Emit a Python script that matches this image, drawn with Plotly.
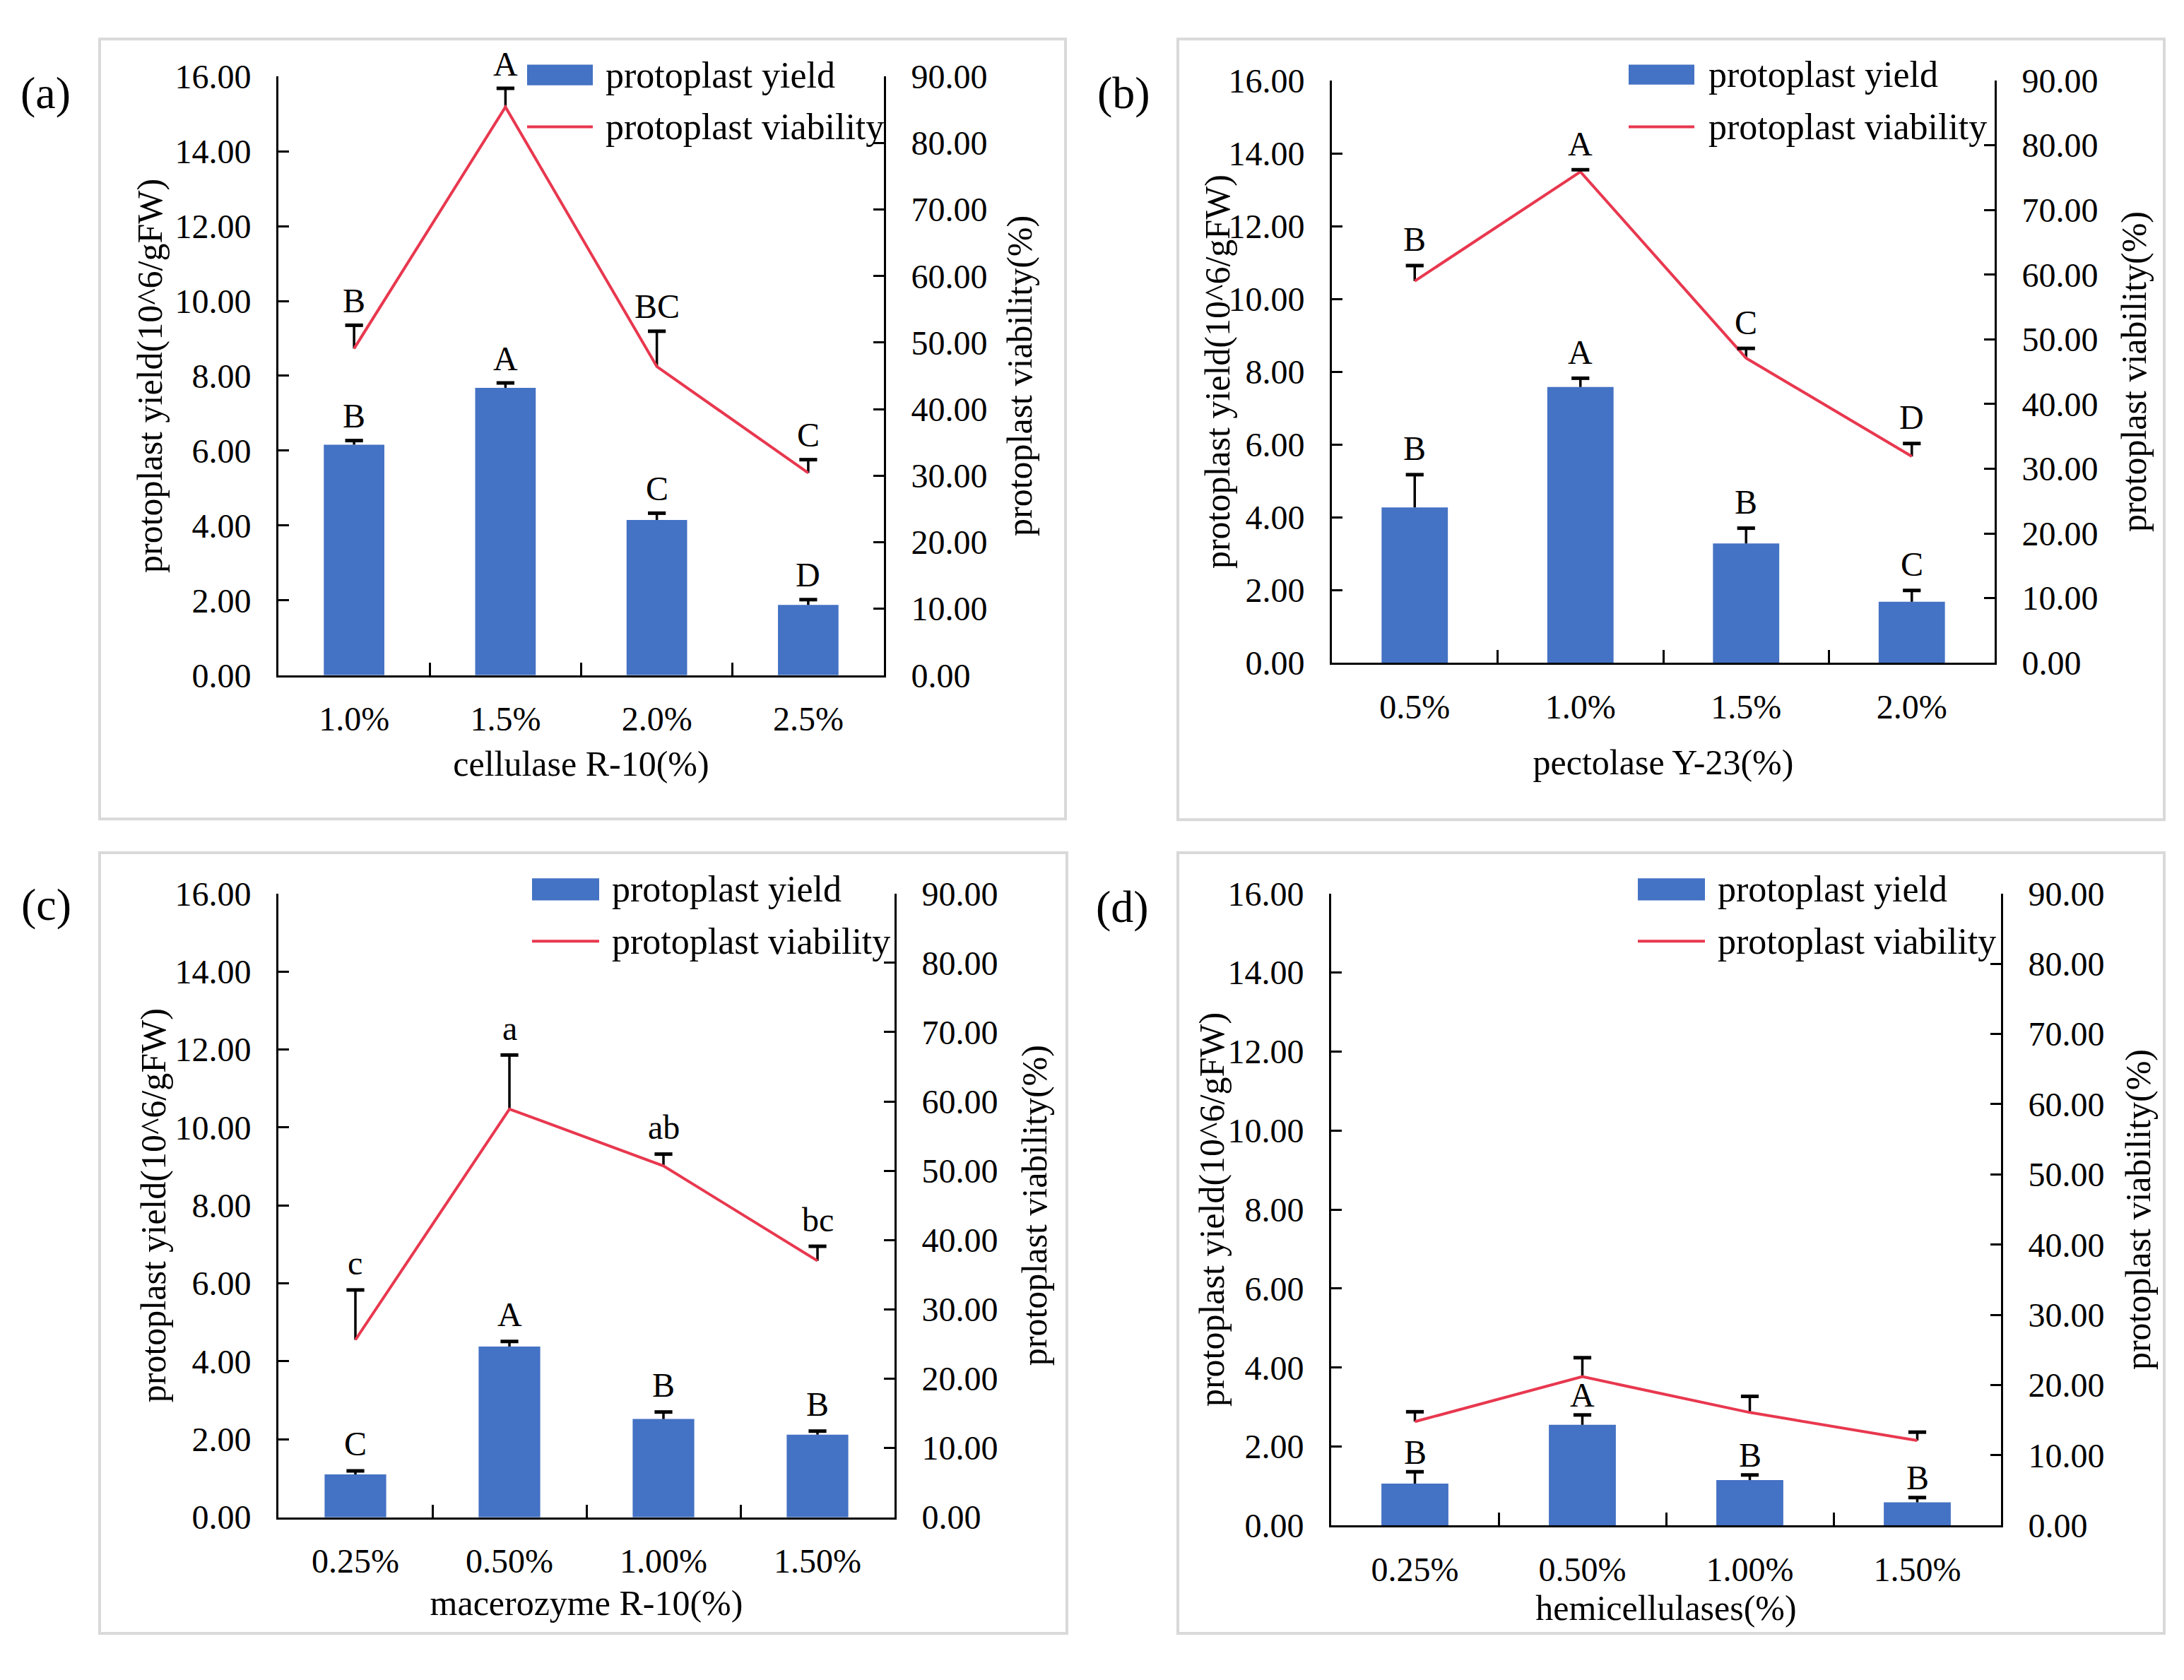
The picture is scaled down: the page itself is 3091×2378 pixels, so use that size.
import plotly.graph_objects as go

W, H = 3091, 2378
FONT = "Liberation Serif"
BAR_COLOR = "#4472C4"
LINE_COLOR = "#E8384F"

# ---------------- data ----------------
cats_a = ["1.0%", "1.5%", "2.0%", "2.5%"]
yield_a = [6.16, 7.68, 4.15, 1.88]
yield_err_a = [0.11, 0.13, 0.18, 0.14]
viab_a = [49.1, 85.4, 46.4, 30.4]
viab_err_a = [3.5, 2.8, 5.3, 2.0]
let_yield_a = ["B", "A", "C", "D"]
let_viab_a = ["B", "A", "BC", "C"]

cats_b = ["0.5%", "1.0%", "1.5%", "2.0%"]
yield_b = [4.27, 7.58, 3.28, 1.68]
yield_err_b = [0.90, 0.24, 0.42, 0.31]
viab_b = [59.0, 75.9, 47.1, 31.9]
viab_err_b = [2.4, 0.3, 1.5, 2.0]
let_yield_b = ["B", "A", "B", "C"]
let_viab_b = ["B", "A", "C", "D"]

cats_c = ["0.25%", "0.50%", "1.00%", "1.50%"]
yield_c = [1.10, 4.38, 2.52, 2.12]
yield_err_c = [0.09, 0.13, 0.18, 0.09]
viab_c = [25.6, 58.9, 50.7, 37.0]
viab_err_c = [7.2, 7.8, 1.7, 2.1]
let_yield_c = ["C", "A", "B", "B"]
let_viab_c = ["c", "a", "ab", "bc"]

cats_d = ["0.25%", "0.50%", "1.00%", "1.50%"]
yield_d = [1.06, 2.55, 1.15, 0.59]
yield_err_d = [0.30, 0.25, 0.13, 0.12]
viab_d = [14.8, 21.2, 16.1, 12.1]
viab_err_d = [1.4, 2.7, 2.3, 1.2]
let_yield_d = ["B", "A", "B", "B"]
let_viab_d = ["", "", "", ""]

xtitles = ["cellulase R-10(%)", "pectolase Y-23(%)", "macerozyme R-10(%)", "hemicellulases(%)"]
panel_labels = ["(a)", "(b)", "(c)", "(d)"]
left_title = "protoplast yield(10^6/gFW)"
right_title = "protoplast viability(%)"
legend_names = ["protoplast yield", "protoplast viability"]

# ---------------- layout geometry (pixels) ----------------
def px(x):
    return x / W

def py(y):
    return 1 - y / H

panels = [
    dict(cats=cats_a, yv=yield_a, ye=yield_err_a, vv=viab_a, ve=viab_err_a, ly=let_yield_a, lv=let_viab_a,
         plot=(394, 1251, 84, 951), box=(141, 1508, 30, 1159), leg=(746, 839, 67, 97, 157, 855),
         lab=(64, 108), xstand=20, ytx=(212, 1443), lshift=35),
    dict(cats=cats_b, yv=yield_b, ye=yield_err_b, vv=viab_b, ve=viab_err_b, ly=let_yield_b, lv=let_viab_b,
         plot=(1885, 2823, 90, 933), box=(1667, 3063, 30, 1160), leg=(2305, 2398, 67, 96, 157, 2416),
         lab=(1590, 108), xstand=36, ytx=(1723, 3020), lshift=37),
    dict(cats=cats_c, yv=yield_c, ye=yield_err_c, vv=viab_c, ve=viab_err_c, ly=let_yield_c, lv=let_viab_c,
         plot=(394, 1266, 1267, 2170), box=(141, 1510, 1208, 2338), leg=(753, 848, 1245, 1277, 1336, 864),
         lab=(65, 1283), xstand=16, ytx=(217, 1464), lshift=38),
    dict(cats=cats_d, yv=yield_d, ye=yield_err_d, vv=viab_d, ve=viab_err_d, ly=let_yield_d, lv=let_viab_d,
         plot=(1884, 2832, 1267, 2182), box=(1667, 3063, 1208, 2338), leg=(2318, 2413, 1245, 1277, 1336, 2429),
         lab=(1588, 1286), xstand=6, ytx=(1715, 3026), lshift=28),
]

fig = go.Figure()
layout = dict(
    width=W, height=H, margin=dict(l=0, r=0, t=0, b=0), autosize=False,
    paper_bgcolor="white", plot_bgcolor="rgba(0,0,0,0)",
    font=dict(family=FONT, size=48, color="black"),
    showlegend=False, barmode="overlay",
)
shapes = []
annotations = []

tickfont = dict(family=FONT, size=48, color="black")
titlefont = dict(family=FONT, size=50, color="black")

for i, p in enumerate(panels):
    n = i + 1
    xa = "x" if n == 1 else f"x{n}"
    yl = "y" if n == 1 else f"y{2 * n - 1}"
    yr = f"y{2 * n}"
    xkey = "xaxis" if n == 1 else f"xaxis{n}"
    ylkey = "yaxis" if n == 1 else f"yaxis{2 * n - 1}"
    yrkey = f"yaxis{2 * n}"
    x0, x1, y0, y1 = p["plot"]

    # bars with one-sided error bars
    fig.add_trace(go.Bar(
        x=p["cats"], y=p["yv"], xaxis=xa, yaxis=yl, width=0.4,
        marker=dict(color=BAR_COLOR, line=dict(width=0)), name=legend_names[0],
        error_y=dict(type="data", symmetric=False, array=p["ye"], arrayminus=[0] * 4,
                     width=0, thickness=3.5, color="black"),
    ))
    top_y = [v + e for v, e in zip(p["yv"], p["ye"])]
    fig.add_trace(go.Scatter(
        x=p["cats"], y=top_y, xaxis=xa, yaxis=yl, mode="markers",
        marker=dict(symbol="line-ew", size=18, line=dict(width=5, color="black")),
        hoverinfo="skip",
    ))
    # viability line with one-sided error bars
    fig.add_trace(go.Scatter(
        x=p["cats"], y=p["vv"], xaxis=xa, yaxis=yr, mode="lines", name=legend_names[1],
        line=dict(color=LINE_COLOR, width=4),
        error_y=dict(type="data", symmetric=False, array=p["ve"], arrayminus=[0] * 4,
                     width=0, thickness=3.5, color="black"),
    ))
    top_v = [v + e for v, e in zip(p["vv"], p["ve"])]
    fig.add_trace(go.Scatter(
        x=p["cats"], y=top_v, xaxis=xa, yaxis=yr, mode="markers",
        marker=dict(symbol="line-ew", size=18, line=dict(width=5, color="black")),
        hoverinfo="skip",
    ))

    layout[xkey] = dict(
        domain=[px(x0), px(x1)], anchor=yl, type="category", range=[-0.5, 3.5],
        showline=True, linecolor="black", linewidth=3, mirror=False,
        ticks="inside", tickson="boundaries", ticklen=18, tickwidth=3, tickcolor="black",
        tickfont=tickfont, ticklabelstandoff=18, showgrid=False, zeroline=False,
        title=dict(text=xtitles[i], font=titlefont, standoff=p["xstand"]),
    )
    layout[ylkey] = dict(
        domain=[py(y1), py(y0)], anchor=xa, range=[0, 16], dtick=2, tickformat=".2f",
        showline=True, linecolor="black", linewidth=3,
        ticks="inside", ticklen=15, tickwidth=3, tickcolor="black",
        tickfont=tickfont, ticklabelstandoff=26, showgrid=False, zeroline=False,
    )
    layout[yrkey] = dict(
        overlaying=yl, anchor=xa, side="right", range=[0, 90], dtick=10, tickformat=".2f",
        showline=True, linecolor="black", linewidth=3,
        ticks="inside", ticklen=15, tickwidth=3, tickcolor="black",
        tickfont=tickfont, ticklabelstandoff=26, showgrid=False, zeroline=False,
    )

    # y-axis titles (placed as rotated text beside each axis)
    tl, tr = p["ytx"]
    ymid = py((y0 + y1) / 2)
    annotations.append(dict(x=px(tl), y=ymid, xref="paper", yref="paper", text=left_title,
                            textangle=-90, showarrow=False, xanchor="center", yanchor="middle",
                            font=titlefont))
    annotations.append(dict(x=px(tr), y=ymid, xref="paper", yref="paper", text=right_title,
                            textangle=-90, showarrow=False, xanchor="center", yanchor="middle",
                            font=titlefont))

    # significance letters
    for c, t, s in zip(p["cats"], top_y, p["ly"]):
        if s:
            annotations.append(dict(x=c, y=t, xref=xa, yref=yl, text=s, showarrow=False,
                                    yanchor="middle", yshift=p["lshift"], font=dict(family=FONT, size=48)))
    for c, t, s in zip(p["cats"], top_v, p["lv"]):
        if s:
            annotations.append(dict(x=c, y=t, xref=xa, yref=yr, text=s, showarrow=False,
                                    yanchor="middle", yshift=p["lshift"], font=dict(family=FONT, size=48)))

    # panel frame
    bx0, bx1, by0, by1 = p["box"]
    shapes.append(dict(type="rect", xref="paper", yref="paper", x0=px(bx0), x1=px(bx1),
                       y0=py(by1), y1=py(by0), line=dict(color="#d9d9d9", width=4),
                       fillcolor="rgba(0,0,0,0)", layer="below"))

    # legend (drawn)
    lx0, lx1, ly0, ly1, lline, ltext = p["leg"]
    shapes.append(dict(type="rect", xref="paper", yref="paper", x0=px(lx0), x1=px(lx1),
                       y0=py(ly1), y1=py(ly0), line=dict(width=0), fillcolor=BAR_COLOR))
    shapes.append(dict(type="line", xref="paper", yref="paper", x0=px(lx0), x1=px(lx1),
                       y0=py(lline), y1=py(lline), line=dict(color=LINE_COLOR, width=4)))
    annotations.append(dict(x=px(ltext), y=py((ly0 + ly1) / 2), xref="paper", yref="paper",
                            text=legend_names[0], showarrow=False, xanchor="left", yanchor="middle",
                            font=dict(family=FONT, size=52)))
    annotations.append(dict(x=px(ltext), y=py(lline), xref="paper", yref="paper",
                            text=legend_names[1], showarrow=False, xanchor="left", yanchor="middle",
                            font=dict(family=FONT, size=52)))

    # panel label
    lxp, lyp = p["lab"]
    annotations.append(dict(x=px(lxp), y=py(lyp), xref="paper", yref="paper", text=panel_labels[i],
                            showarrow=False, xanchor="center", yanchor="middle",
                            font=dict(family=FONT, size=64)))

layout["shapes"] = shapes
layout["annotations"] = annotations
fig.update_layout(**layout)
fig.write_html(
    "out.html",
    config={"displayModeBar": False},
    post_script="document.body.style.margin='0';document.body.style.overflow='hidden';",
)
